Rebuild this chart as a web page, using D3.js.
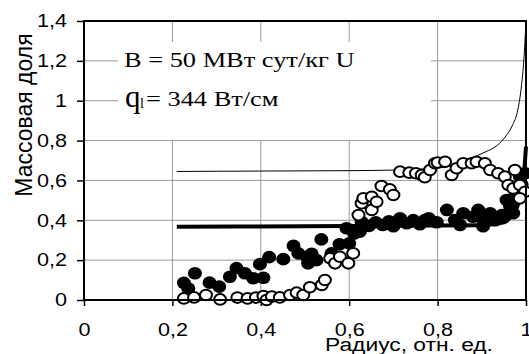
<!DOCTYPE html>
<html lang="ru">
<head>
<meta charset="UTF-8">
<title>Массовая доля</title>
<script src="https://cdn.jsdelivr.net/npm/d3@7/dist/d3.min.js"></script>
<style>
  body { margin: 0; background: #fff; }
</style>
</head>
<body>
<script>
// ticks
const xTicks = [0, 0.2, 0.4, 0.6, 0.8, 1];
const yTicks = [0, 0.2, 0.4, 0.6, 0.8, 1, 1.2, 1.4];

// thin curve (upper calculated line)
const thinX = [0.21, 0.3, 0.4, 0.5, 0.6, 0.7, 0.75, 0.8, 0.83, 0.86, 0.89, 0.91, 0.93, 0.95, 0.97, 0.98, 0.99, 0.995, 1.0];
const thinY = [0.645, 0.646, 0.647, 0.648, 0.649, 0.652, 0.656, 0.662, 0.672, 0.69, 0.725, 0.745, 0.768, 0.81, 0.88, 0.94, 1.08, 1.2, 1.4];

// thick curve (lower calculated line)
const thickX = [0.21, 0.5, 0.9, 0.95, 0.97, 0.985, 0.995, 1.0];
const thickY = [0.368, 0.37, 0.375, 0.39, 0.43, 0.5, 0.62, 0.77];

// filled circles
const filledX = [0.226, 0.236, 0.251, 0.284, 0.306, 0.330, 0.345, 0.364, 0.383, 0.398, 0.406, 0.419,
  0.451, 0.474, 0.485, 0.504, 0.507, 0.515, 0.526, 0.537, 0.560, 0.578, 0.594, 0.600, 0.611, 0.624,
  0.628, 0.645, 0.660, 0.676, 0.690, 0.700, 0.715, 0.730, 0.745, 0.760, 0.771, 0.780, 0.798, 0.821,
  0.839, 0.851, 0.858, 0.880, 0.892, 0.903, 0.903, 0.919, 0.930, 0.945, 0.956, 0.964, 0.971, 0.975,
  0.986, 0.990, 0.998];
const filledY = [0.086, 0.058, 0.134, 0.087, 0.067, 0.117, 0.160, 0.134, 0.109, 0.180, 0.112, 0.215,
  0.205, 0.272, 0.234, 0.217, 0.184, 0.232, 0.200, 0.304, 0.234, 0.280, 0.360, 0.284, 0.334, 0.343,
  0.393, 0.372, 0.390, 0.376, 0.395, 0.370, 0.410, 0.385, 0.401, 0.380, 0.401, 0.410, 0.390, 0.452,
  0.401, 0.376, 0.435, 0.418, 0.452, 0.370, 0.401, 0.435, 0.400, 0.426, 0.502, 0.468, 0.435, 0.520,
  0.619, 0.580, 0.636];

// open circles
const openX = [0.226, 0.249, 0.276, 0.308, 0.347, 0.370, 0.389, 0.406, 0.413, 0.425, 0.443, 0.466,
  0.481, 0.496, 0.511, 0.538, 0.545, 0.557, 0.568, 0.579, 0.598, 0.609, 0.621, 0.628, 0.632, 0.651,
  0.651, 0.662, 0.673, 0.692, 0.700, 0.715, 0.736, 0.751, 0.764, 0.771, 0.783, 0.794, 0.800, 0.817,
  0.832, 0.843, 0.858, 0.877, 0.888, 0.907, 0.919, 0.937, 0.952, 0.975, 0.960, 0.971, 0.986, 0.998,
  0.986];
const openY = [0.008, 0.013, 0.025, 0.003, 0.012, 0.008, 0.012, 0.020, 0.000, 0.017, 0.013, 0.025,
  0.037, 0.025, 0.064, 0.075, 0.100, 0.209, 0.184, 0.217, 0.184, 0.234, 0.426, 0.485, 0.510, 0.452,
  0.518, 0.493, 0.572, 0.555, 0.527, 0.644, 0.639, 0.636, 0.627, 0.616, 0.652, 0.686, 0.690, 0.694,
  0.627, 0.661, 0.686, 0.686, 0.694, 0.686, 0.652, 0.636, 0.619, 0.652, 0.577, 0.560, 0.577, 0.543,
  0.510];

const width = 529, height = 354;
const plotL = 84, plotR = 526, plotT = 21, plotB = 300;
const sx = 1.2; // glyphs in the picture are wider than tall

const svg = d3.select("body").append("svg")
  .attr("width", width)
  .attr("height", height);

const x = d3.scaleLinear().domain([0, 1]).range([plotL, plotR]);
const y = d3.scaleLinear().domain([0, 1.4]).range([plotB, plotT]);

const fmt = d => d3.format("~g")(d).replace(".", ",");

// grid
svg.append("g")
  .selectAll("line")
  .data(yTicks.slice(1, -1))
  .join("line")
  .attr("x1", plotL).attr("x2", plotR)
  .attr("y1", d => y(d)).attr("y2", d => y(d))
  .attr("stroke", "#9a9a9a").attr("stroke-width", 1);

svg.append("g")
  .selectAll("line")
  .data(xTicks.slice(1, -1))
  .join("line")
  .attr("x1", d => x(d)).attr("x2", d => x(d))
  .attr("y1", plotT).attr("y2", plotB)
  .attr("stroke", "#9a9a9a").attr("stroke-width", 1);

// white box behind the annotation
svg.append("rect")
  .attr("x", 118).attr("y", 42)
  .attr("width", 313).attr("height", 98)
  .attr("fill", "#fff");

// axes
const yAxis = svg.append("g")
  .attr("transform", `translate(${plotL},0)`)
  .call(d3.axisLeft(y).tickValues(yTicks).tickFormat(fmt).tickSize(7).tickPadding(10));
const xAxis = svg.append("g")
  .attr("transform", `translate(0,${plotB})`)
  .call(d3.axisBottom(x).tickValues(xTicks).tickFormat(fmt).tickSize(6).tickPadding(17));

[yAxis, xAxis].forEach(g => {
  g.select(".domain").remove();
  g.selectAll(".tick line").attr("stroke", "#000").attr("stroke-width", 1.5);
  g.selectAll(".tick text")
    .attr("font-family", "Liberation Sans, Arial, sans-serif")
    .attr("font-size", 18)
    .attr("fill", "#000");
});
yAxis.selectAll(".tick text").attr("x", -17 / sx).attr("transform", `scale(${sx},1)`);
xAxis.selectAll(".tick text").attr("transform", `scale(${sx},1)`);

// lines
const line = d3.line().x(d => x(d[0])).y(d => y(d[1])).curve(d3.curveMonotoneX);

svg.append("path")
  .datum(thinX.map((v, i) => [v, thinY[i]]))
  .attr("d", line)
  .attr("fill", "none").attr("stroke", "#000").attr("stroke-width", 1);

svg.append("path")
  .datum(thickX.map((v, i) => [v, thickY[i]]))
  .attr("d", line)
  .attr("fill", "none").attr("stroke", "#000").attr("stroke-width", 4);

// points (slightly wider than tall, like the picture)
svg.append("g")
  .selectAll("ellipse")
  .data(filledX.map((v, i) => [v, filledY[i]]))
  .join("ellipse")
  .attr("cx", d => x(d[0])).attr("cy", d => y(d[1]))
  .attr("rx", 7).attr("ry", 6.3).attr("fill", "#000");

svg.append("g")
  .selectAll("ellipse")
  .data(openX.map((v, i) => [v, openY[i]]))
  .join("ellipse")
  .attr("cx", d => x(d[0])).attr("cy", d => y(d[1]))
  .attr("rx", 6).attr("ry", 5.3)
  .attr("fill", "#fff").attr("stroke", "#000").attr("stroke-width", 2);

// frame
svg.append("rect")
  .attr("x", plotL).attr("y", plotT)
  .attr("width", plotR - plotL).attr("height", plotB - plotT)
  .attr("fill", "none").attr("stroke", "#000").attr("stroke-width", 2);

// texts
function label(px, py, str, size, family, scale) {
  return svg.append("text")
    .attr("transform", `translate(${px},${py}) scale(${scale},1)`)
    .attr("font-family", family)
    .attr("font-size", size)
    .attr("fill", "#000")
    .text(str);
}
const serif = "Liberation Serif, Times New Roman, serif";
const sans = "Liberation Sans, Arial, sans-serif";

label(124, 67, "B = 50 МВт сут/кг U", 22, serif, 1.2);
label(125, 107, "q", 31, serif, 1);
label(140, 108, "l", 14, serif, 1);
label(146, 105.5, "= 344 Вт/см", 22, serif, 1.2);

label(325, 351, "Радиус, отн. ед.", 19, sans, sx);

svg.append("text")
  .attr("transform", "translate(32,115) scale(1.08,1) rotate(-90)")
  .attr("text-anchor", "middle")
  .attr("font-family", sans)
  .attr("font-size", 23)
  .attr("fill", "#000")
  .text("Массовая доля");
</script>
</body>
</html>
